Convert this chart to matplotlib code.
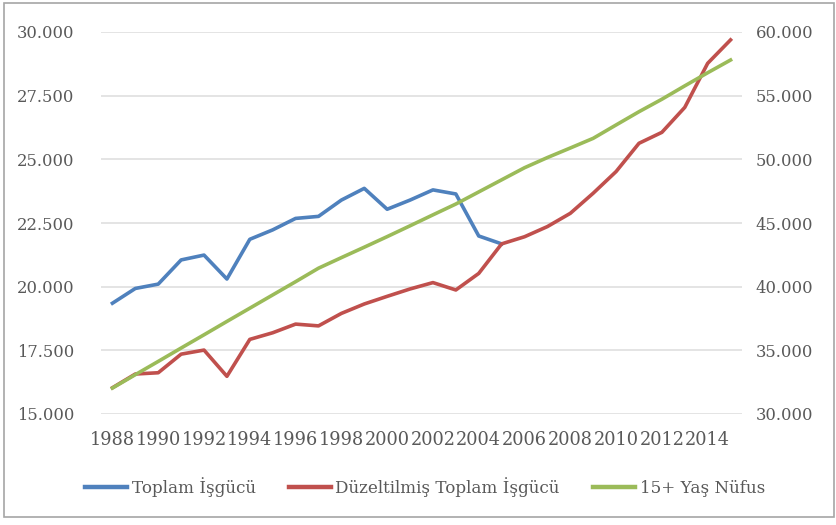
import matplotlib
matplotlib.use("Agg")
import matplotlib.pyplot as plt
from matplotlib.patches import Rectangle
from matplotlib.ticker import FuncFormatter, FixedLocator

years = list(range(1988, 2016))
toplam_isgucu = [19350, 19930, 20100, 21050, 21240, 20300, 21860, 22230, 22680,
                 22760, 23400, 23860, 23040, 23400, 23800, 23640, 21990, 21680]
duzeltilmis_isgucu = [16030, 16570, 16620, 17350, 17510, 16480, 17930, 18190, 18530,
                      18460, 18950, 19320, 19620, 19910, 20160, 19870, 20520, 21680,
                      21960, 22360, 22880, 23670, 24520, 25630, 26060, 27040, 28770, 29690]
nufus_15 = [32040, 33090, 34130, 35180, 36220, 37270, 38310, 39350, 40390, 41450,
            42280, 43100, 43930, 44780, 45640, 46490, 47440, 48390, 49340, 50140,
            50890, 51650, 52700, 53740, 54720, 55770, 56800, 57800]
x_labels = [str(y) for y in range(1988, 2015, 2)]
left_ticks = [15000, 17500, 20000, 22500, 25000, 27500, 30000]
right_ticks = [30000, 35000, 40000, 45000, 50000, 55000, 60000]
series_names = ["Toplam İşgücü", "Düzeltilmiş Toplam İşgücü", "15+ Yaş Nüfus"]

FONT = "DejaVu Serif"
TXT = "#595959"
C_BLUE, C_RED, C_GREEN = "#4F81BD", "#C0504D", "#9BBB59"

fig = plt.figure(figsize=(8.37, 5.25), dpi=100)
ax = fig.add_axes([101/837, 1-414/525, (742-101)/837, (414-32)/525])
ax2 = ax.twinx()

def tr_fmt(v, pos):
    return f"{int(round(v)):,}".replace(",", ".")

xb = list(range(len(toplam_isgucu)))
xr = list(range(len(duzeltilmis_isgucu)))
xg = list(range(len(nufus_15)))

l1, = ax.plot(xb, toplam_isgucu, color=C_BLUE, lw=2.6, solid_joinstyle="round", zorder=3)
l2, = ax.plot(xr, duzeltilmis_isgucu, color=C_RED, lw=2.6, solid_joinstyle="round", zorder=3)
l3, = ax2.plot(xg, nufus_15, color=C_GREEN, lw=2.6, solid_joinstyle="round", zorder=3)

ax.set_xlim(-0.5, len(years) - 0.5)
ax.set_ylim(15000, 30000)
ax2.set_ylim(30000, 60000)

ax.yaxis.set_major_locator(FixedLocator(left_ticks))
ax2.yaxis.set_major_locator(FixedLocator(right_ticks))
ax.yaxis.set_major_formatter(FuncFormatter(tr_fmt))
ax2.yaxis.set_major_formatter(FuncFormatter(tr_fmt))

ax.set_xticks(list(range(0, len(x_labels) * 2, 2)))
ax.set_xticklabels(x_labels)

ax.grid(axis="y", color="#DCDCDC", lw=1.1, zorder=0)
ax.set_axisbelow(True)
for a in (ax, ax2):
    for s in a.spines.values():
        s.set_visible(False)
    a.tick_params(length=0)

ax.tick_params(axis="y", pad=19, labelsize=11.8, labelcolor=TXT)
ax2.tick_params(axis="y", pad=10, labelsize=11.8, labelcolor=TXT)
ax.tick_params(axis="x", pad=12, labelsize=12.8, labelcolor=TXT)
for lab in ax.get_xticklabels() + ax.get_yticklabels() + ax2.get_yticklabels():
    lab.set_fontfamily(FONT)

leg = fig.legend([l1, l2, l3], series_names, loc="center", bbox_to_anchor=(0.508, 1-487/525),
                 ncol=3, frameon=False, handlelength=2.5, handletextpad=0.25,
                 columnspacing=2.0, prop={"family": FONT, "size": 12.1})
for t in leg.get_texts():
    t.set_color(TXT)
for h in leg.get_lines():
    h.set_linewidth(3.2)

fig.patches.append(Rectangle((4/837, 1-517/525), (834-4)/837, (517-3)/525,
                             transform=fig.transFigure, fill=False,
                             edgecolor="#A6A6A6", lw=1.2))

fig.savefig("out.png", dpi=100)
